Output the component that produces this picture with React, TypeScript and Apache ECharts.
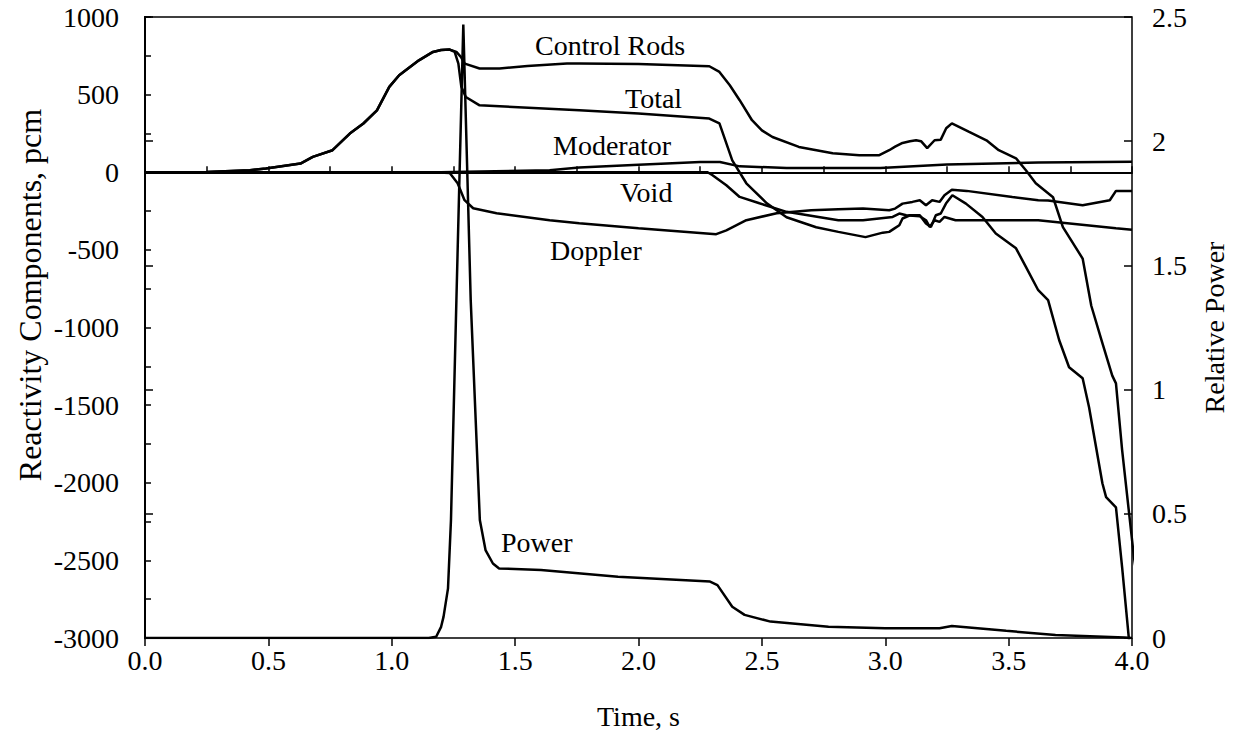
import React, { useEffect, useRef } from "react";
import * as echarts from "echarts";

// [time s, reactivity pcm]
const controlRods: [number, number][] = [
  [0, 0], [0.25, 1], [0.425, 13], [0.49, 24], [0.63, 56], [0.68, 99], [0.76, 142], [0.83, 249],
  [0.885, 314], [0.94, 399], [0.99, 550], [1.03, 625], [1.11, 721], [1.167, 775], [1.2, 787],
  [1.235, 790], [1.262, 775], [1.28, 743], [1.296, 700], [1.356, 668], [1.437, 668], [1.55, 685],
  [1.71, 700], [1.76, 700], [2.0, 697], [2.287, 683], [2.328, 646], [2.37, 560], [2.41, 464],
  [2.46, 335], [2.5, 270], [2.543, 227], [2.65, 163], [2.787, 122], [2.895, 110], [2.976, 110],
  [3.016, 142], [3.04, 165], [3.07, 189], [3.1, 200], [3.125, 206], [3.145, 200], [3.17, 155],
  [3.2, 206], [3.225, 210], [3.247, 283], [3.27, 315], [3.34, 260], [3.41, 206], [3.46, 142],
  [3.53, 90], [3.57, 13], [3.61, -71], [3.68, -161], [3.72, -354], [3.8, -556], [3.835, -860],
  [3.88, -1101], [3.92, -1310], [3.935, -1360], [3.96, -1790], [3.99, -2222], [4.008, -2480],
  [4.036, -2777],
];

const total: [number, number][] = [
  [0, 0], [0.25, 1], [0.425, 13], [0.49, 24], [0.63, 56], [0.68, 99], [0.76, 142], [0.83, 249],
  [0.885, 314], [0.94, 399], [0.99, 550], [1.03, 625], [1.11, 721], [1.167, 775], [1.2, 787],
  [1.235, 790], [1.255, 775], [1.27, 700], [1.282, 550], [1.3, 485], [1.356, 431], [1.437, 425],
  [1.76, 399], [2.0, 378], [2.287, 346], [2.328, 315], [2.38, 77], [2.437, -71], [2.52, -200],
  [2.6, -290], [2.72, -354], [2.81, -384], [2.92, -418], [2.99, -389], [3.016, -384],
  [3.036, -363], [3.057, -341], [3.07, -298], [3.1, -277], [3.14, -277], [3.165, -330],
  [3.185, -352], [3.205, -277], [3.225, -266], [3.246, -202], [3.272, -148], [3.327, -202],
  [3.394, -288], [3.448, -395], [3.53, -490], [3.57, -610], [3.62, -760], [3.66, -824],
  [3.705, -1082], [3.745, -1256], [3.8, -1327], [3.826, -1514], [3.88, -2003], [3.895, -2093],
  [3.935, -2158], [3.96, -2545], [3.988, -3015],
];

const moderator: [number, number][] = [
  [0, 0], [1.2, 0], [1.3, 3], [1.64, 13], [1.76, 30], [2.0, 48], [2.25, 66], [2.33, 66],
  [2.41, 38], [2.6, 28], [2.98, 28], [3.25, 50], [3.62, 62], [4.0, 68],
];

const doppler: [number, number][] = [
  [0, 0], [1.17, 0], [1.235, -5], [1.267, -71], [1.295, -180], [1.33, -232], [1.425, -264],
  [1.64, -309], [1.76, -329], [2.0, -360], [2.315, -399], [2.356, -374], [2.437, -309],
  [2.56, -264], [2.7, -245], [2.81, -238], [2.91, -234], [3.016, -245], [3.04, -234],
  [3.07, -202], [3.11, -191], [3.14, -180], [3.165, -213], [3.19, -180], [3.22, -191],
  [3.24, -148], [3.27, -112], [3.33, -120], [3.515, -159], [3.62, -180], [3.66, -182],
  [3.8, -213], [3.91, -180], [3.935, -120], [4.0, -120],
];

const voidR: [number, number][] = [
  [0, 0], [2.28, 0], [2.3, -19], [2.356, -84], [2.41, -159], [2.49, -200], [2.6, -255],
  [2.81, -309], [2.91, -309], [3.03, -288], [3.057, -266], [3.085, -277], [3.14, -283],
  [3.165, -309], [3.18, -352], [3.2, -309], [3.22, -320], [3.24, -288], [3.285, -309],
  [3.62, -309], [3.935, -360], [4.0, -370],
];

// [time s, relative power]
const power: [number, number][] = [
  [0, 0], [1.15, 0], [1.18, 0.005], [1.2, 0.045], [1.21, 0.086], [1.228, 0.2], [1.24, 0.475],
  [1.262, 1.36], [1.29, 2.47], [1.32, 1.36], [1.357, 0.475], [1.38, 0.354], [1.41, 0.3],
  [1.435, 0.28], [1.605, 0.274], [1.917, 0.247], [2.29, 0.227], [2.32, 0.213], [2.38, 0.126],
  [2.43, 0.093], [2.535, 0.066], [2.77, 0.045], [3.0, 0.039], [3.22, 0.039], [3.27, 0.048],
  [3.49, 0.029], [3.69, 0.012], [3.97, 0.002], [4.0, 0],
];

const curveLabels = [
  { text: "Control Rods", x: 535, y: 45 },
  { text: "Total", x: 625, y: 98 },
  { text: "Moderator", x: 553, y: 145 },
  { text: "Void", x: 620, y: 192 },
  { text: "Doppler", x: 550, y: 250 },
  { text: "Power", x: 501, y: 542 },
];

const leftAxisTitle = "Reactivity Components, pcm";

const FONT = "Liberation Serif";

export default function App() {
  const ref = useRef<HTMLDivElement>(null);
  useEffect(() => {
    if (!ref.current) return;
    const chart = echarts.init(ref.current, null, { renderer: "svg" });
    const black = "#000";
    const lineSeries = (name: string, data: [number, number][], yAxisIndex = 0, clip = true) => ({
      type: "line",
      name,
      data,
      yAxisIndex,
      showSymbol: false,
      clip,
      lineStyle: { color: black, width: 2.5 },
      itemStyle: { color: black },
    });
    chart.setOption({
      animation: false,
      backgroundColor: "#fff",
      textStyle: { fontFamily: FONT },
      grid: {
        left: 145, top: 17, width: 987, height: 621,
        show: true, borderColor: black, borderWidth: 1.5,
      },
      xAxis: [
        {
          type: "value", min: 0, max: 4, interval: 0.25, position: "bottom",
          name: "Time, s", nameLocation: "middle", nameGap: 64,
          nameTextStyle: { fontFamily: FONT, fontSize: 28, color: black },
          axisLine: { show: true, lineStyle: { color: black, width: 2 } },
          axisTick: { show: true, inside: true, length: 6, lineStyle: { color: black, width: 1.5 } },
          axisLabel: {
            fontFamily: FONT, fontSize: 28, color: black, margin: 8,
            formatter: (v: number) => (Math.abs(v * 2 - Math.round(v * 2)) < 1e-6 ? v.toFixed(1) : ""),
          },
          splitLine: { show: false },
        },
        {
          type: "value", min: 0, max: 4, interval: 0.5, position: "bottom",
          axisLine: { show: false },
          axisTick: { show: true, inside: false, length: 8, lineStyle: { color: black, width: 1.5 } },
          axisLabel: { show: false },
          splitLine: { show: false },
        },
      ],
      yAxis: [
        {
          type: "value", min: -3000, max: 1000, interval: 250, position: "left",
          axisLine: { show: true, lineStyle: { color: black, width: 2 } },
          axisTick: { show: true, inside: true, length: 6, lineStyle: { color: black, width: 1.5 } },
          axisLabel: {
            fontFamily: FONT, fontSize: 28, color: black, margin: 26,
            formatter: (v: number) => (Math.round(v) % 500 === 0 ? String(Math.round(v)) : ""),
          },
          splitLine: { show: false },
        },
        {
          type: "value", min: 0, max: 2.5, interval: 0.5, position: "right",
          name: "Relative Power", nameLocation: "middle", nameGap: 68,
          nameTextStyle: { fontFamily: FONT, fontSize: 28, color: black },
          axisLine: { show: true, lineStyle: { color: black, width: 2 } },
          axisTick: { show: true, inside: false, length: 8, lineStyle: { color: black, width: 1.5 } },
          axisLabel: { fontFamily: FONT, fontSize: 28, color: black, margin: 20 },
          splitLine: { show: false },
        },
        {
          type: "value", min: 0, max: 2.5, interval: 0.5, position: "right",
          axisLine: { show: false },
          axisTick: { show: true, inside: true, length: 8, lineStyle: { color: black, width: 1.5 } },
          axisLabel: { show: false },
          splitLine: { show: false },
        },
      ],
      series: [
        lineSeries("Control Rods", controlRods, 0, false),
        lineSeries("Total", total),
        lineSeries("Moderator", moderator),
        lineSeries("Void", voidR),
        lineSeries("Doppler", doppler),
        lineSeries("Power", power, 1),
      ],
      graphic: [
        ...curveLabels.map((l) => ({
          type: "text",
          x: l.x,
          y: l.y,
          style: {
            text: l.text, fill: black, font: `28px "${FONT}"`,
            textAlign: "left", textVerticalAlign: "middle",
          },
        })),
        {
          type: "text",
          x: 30,
          y: 295,
          rotation: Math.PI / 2,
          style: {
            text: leftAxisTitle, fill: black, font: `32px "${FONT}"`,
            textAlign: "center", textVerticalAlign: "middle",
          },
        },
      ],
    });
    return () => chart.dispose();
  }, []);
  return (
    <div
      ref={ref}
      style={{ position: "fixed", left: 0, top: 0, width: 1237, height: 753, background: "#fff" }}
    />
  );
}
